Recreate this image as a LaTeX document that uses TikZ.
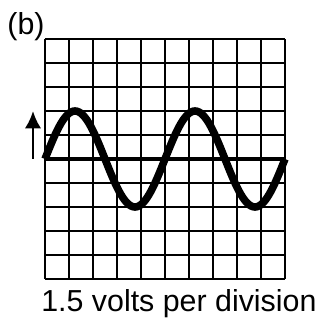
\documentclass[tikz,border=0pt]{standalone}
\usepackage{fontspec}
\setmainfont{Liberation Sans}
\usetikzlibrary{arrows.meta}

\begin{document}
\begin{tikzpicture}[x=0.5cm, y=0.5cm, every node/.style={font=\fontsize{18}{21}\selectfont, inner sep=0pt}, >={Latex[length=3.6mm, width=3.4mm]}, gridline/.style={line width=1.5pt}, trace/.style={line width=4.5pt, line join=round}]
	\useasboundingbox (-1.875,-6.708) rectangle (11.5,6.625);
	\foreach \k in {0,...,10} {\draw[gridline] (\k,-5) -- (\k,5);}
	\foreach \k in {-5,...,5} {\draw[gridline] (0,\k) -- (10,\k);}
	\draw[line width=2.8pt] (0,0) -- (10,0);
	\draw[trace] plot[domain=0:10, samples=121, smooth] (\x,{2*sin(72*\x)});
	\coordinate (foot) at (-0.5,0);
	\coordinate (tip) at (-0.5,2);
	\draw[->, line width=1.6pt] (foot) -- (tip);
	\node[anchor=base west] (part) at (-1.58,5.19) {(b)};
	\node[anchor=base] (scale) at (5.58,-6.375) {1.5 volts per division};
\end{tikzpicture}
\end{document}
